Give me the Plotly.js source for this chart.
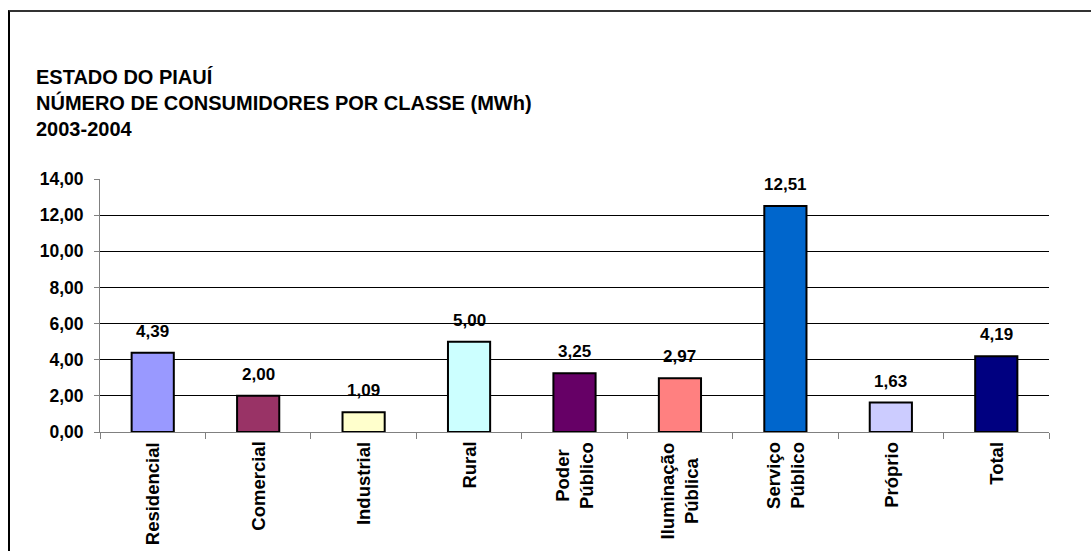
<!DOCTYPE html>
<html>
<head>
<meta charset="utf-8">
<script src="https://cdn.plot.ly/plotly-3.0.1.min.js"></script>
<style>
html,body{margin:0;padding:0;background:#fff;overflow:hidden;}
#wrap{position:relative;width:1091px;height:551px;}
#chart{position:absolute;left:0;top:0;width:1091px;height:551px;}
#frame{position:absolute;left:8px;top:10px;width:1100px;height:600px;border-top:2px solid #333;border-left:2px solid #000;pointer-events:none;}
</style>
</head>
<body>
<div id="wrap"><div id="chart"></div><div id="frame"></div></div>
<script>
const categories = ["Residencial","Comercial","Industrial","Rural","Poder<br>Público","Iluminação<br>Pública","Serviço<br>Público","Próprio","Total"];
const values = [4.39, 2.00, 1.09, 5.00, 3.25, 2.97, 12.51, 1.63, 4.19];
const barColors = ["#9999FF","#993366","#FFFFCC","#CCFFFF","#660066","#FF8080","#0066CC","#CCCCFF","#000080"];
const yTicks = [0,2,4,6,8,10,12,14];
const titleLines = ["ESTADO DO PIAUÍ","NÚMERO DE CONSUMIDORES POR CLASSE (MWh)","2003-2004"];

const fmt = v => v.toFixed(2).replace('.', ',');
const F = "Arial, 'Liberation Sans', sans-serif";

const trace = {
  type: 'bar',
  x: categories,
  y: values,
  marker: {color: barColors, line: {color: '#000', width: 2}},
  width: 0.4,
  hoverinfo: 'none'
};

const annotations = [];
values.forEach((v, i) => {
  annotations.push({
    x: categories[i], y: v, xref: 'x', yref: 'y',
    text: fmt(v), showarrow: false, yanchor: 'bottom', yshift: 10,
    font: {family: F, size: 17, color: '#000', weight: 'bold'}
  });
  annotations.push({
    x: categories[i], y: 0, xref: 'x', yref: 'paper',
    text: categories[i], showarrow: false, textangle: -90,
    yanchor: 'top', yshift: -8, align: 'center',
    font: {family: F, size: 18.5, color: '#000', weight: 'bold'}
  });
});

const layout = {
  width: 1091, height: 551,
  margin: {l: 100, r: 42, t: 179, b: 119, pad: 0},
  paper_bgcolor: 'rgba(0,0,0,0)', plot_bgcolor: 'rgba(0,0,0,0)',
  separators: ',.',
  showlegend: false,
  title: {
    text: titleLines.join('<br>'),
    xref: 'container', yref: 'container',
    x: 36/1091, xanchor: 'left',
    y: 1 - 84/551, yanchor: 'top',
    font: {family: F, size: 20, color: '#000', weight: 'bold'}
  },
  xaxis: {
    type: 'category',
    showticklabels: false,
    ticks: 'outside', tickson: 'boundaries', ticklen: 6, tickcolor: '#808080', tickwidth: 1,
    showline: true, linecolor: '#808080', linewidth: 1,
    showgrid: false, zeroline: false,
    range: [-0.5, 8.5]
  },
  yaxis: {
    range: [0, 14],
    tickvals: yTicks,
    tickformat: '.2f',
    ticks: 'outside', ticklen: 5, tickcolor: '#808080',
    ticklabelstandoff: 7,
    showline: true, linecolor: '#808080', linewidth: 1,
    showgrid: true, gridcolor: '#000', gridwidth: 1,
    zeroline: false,
    tickfont: {family: F, size: 17.5, color: '#000', weight: 'bold'}
  },
  annotations: annotations
};

Plotly.newPlot('chart', [trace], layout, {displayModeBar: false, staticPlot: true});
</script>
</body>
</html>
